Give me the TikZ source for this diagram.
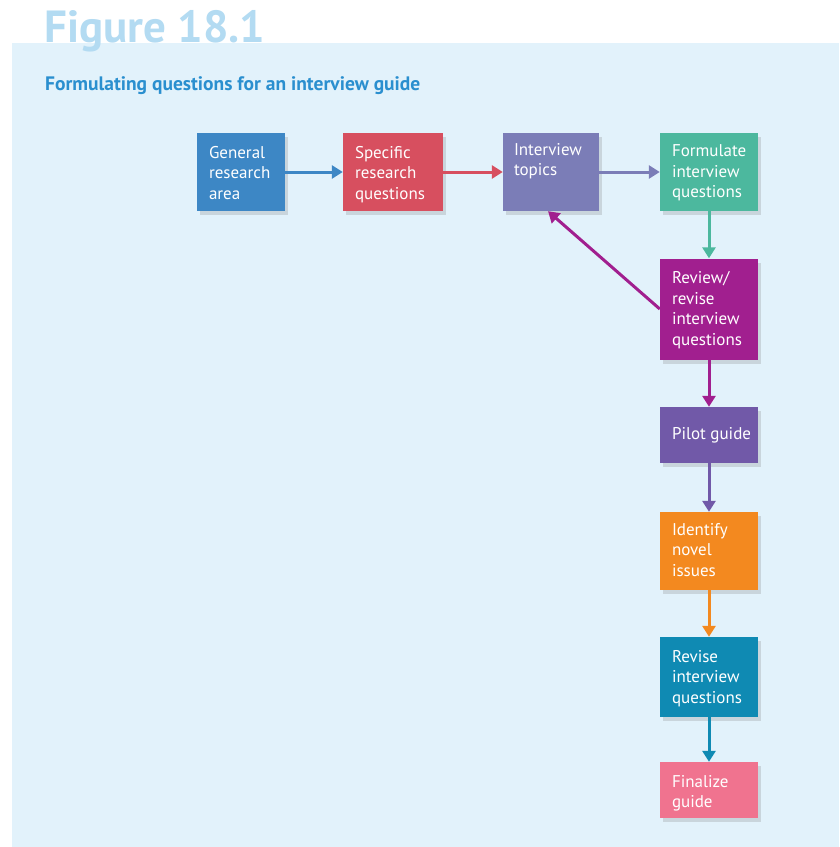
\documentclass[tikz,border=0pt]{standalone}
\usepackage{fontspec}
\setmainfont{PT Sans}
\usetikzlibrary{arrows.meta,shadows}
\definecolor{panel}{HTML}{E2F2FB}
\definecolor{titlec}{HTML}{B3DBF2}
\definecolor{subc}{HTML}{2A8FCF}
\definecolor{cA}{HTML}{3D87C5}
\definecolor{cB}{HTML}{D74F5F}
\definecolor{cC}{HTML}{7B7DB7}
\definecolor{cD}{HTML}{4CB89E}
\definecolor{cE}{HTML}{A11F8F}
\definecolor{cF}{HTML}{7159A8}
\definecolor{cG}{HTML}{F3891F}
\definecolor{cH}{HTML}{0F8AB3}
\definecolor{cI}{HTML}{F0738F}
\tikzset{
  box/.style={rectangle, inner sep=0pt, minimum width=98pt, minimum height=78pt,
    drop shadow={opacity=0.25, shadow xshift=3pt, shadow yshift=-4pt}},
  txt/.style={anchor=north west, align=left, inner sep=0pt, text=white,
    font=\fontsize{17}{20.5}\selectfont},
  arr/.style={line width=3pt, -{Triangle[width=13pt,length=11pt]}},
}
\begin{document}
\begin{tikzpicture}[x=1pt,y=-1pt]
\useasboundingbox (0,0) rectangle (839,847);
\fill[white] (0,0) rectangle (839,847);
\fill[panel] (12,43) rectangle (839,847);
\node[anchor=base west, inner sep=0pt, text=titlec, font=\bfseries\fontsize{45}{45}\selectfont] (title) at (44,42) {Figure 18.1};
\node[anchor=base west, inner sep=0pt, text=subc, font=\bfseries\fontsize{19.5}{21}\selectfont] (sub) at (45,90) {Formulating questions for an interview guide};

\node[box, fill=cA, minimum width=88pt] (a) at (241,172) {};
\node[box, fill=cB, minimum width=100pt] (b) at (393,172) {};
\node[box, fill=cC, minimum width=96pt] (c) at (551,172) {};
\node[box, fill=cD] (d) at (709,172) {};
\node[box, fill=cE, minimum height=101pt] (e) at (709,309) {};
\node[box, fill=cF, minimum height=56pt] (f) at (709,435) {};
\node[box, fill=cG] (g) at (709,551) {};
\node[box, fill=cH, minimum height=80pt] (h) at (709,677) {};
\node[box, fill=cI, minimum height=56pt] (i) at (709,790) {};

\node[txt] (ta) at ([xshift=12pt,yshift=-13pt]a.north west) {General\\research\\area};
\node[txt] (tb) at ([xshift=12pt,yshift=-13pt]b.north west) {Specific\\research\\questions};
\node[txt] (tc) at ([xshift=11pt,yshift=-10pt]c.north west) {Interview\\topics};
\node[txt] (td) at ([xshift=12pt,yshift=-12pt]d.north west) {Formulate\\interview\\questions};
\node[txt] (te) at ([xshift=12pt,yshift=-13pt]e.north west) {Review/\\revise\\interview\\questions};
\node[txt, anchor=west] (tf) at ([xshift=12pt]f.west) {Pilot guide};
\node[txt] (tg) at ([xshift=12pt,yshift=-11pt]g.north west) {Identify\\novel\\issues};
\node[txt] (th) at ([xshift=12pt,yshift=-13pt]h.north west) {Revise\\interview\\questions};
\node[txt] (ti) at ([xshift=12pt,yshift=-13pt]i.north west) {Finalize\\guide};

\draw[arr, cA] (a.east) -- (b.west);
\draw[arr, cB] (b.east) -- (c.west);
\draw[arr, cC] (c.east) -- (d.west);
\draw[arr, cD] (d.south) -- (e.north);
\draw[arr, cE] (e.west) -- ([xshift=-3pt]c.south);
\draw[arr, cE] (e.south) -- (f.north);
\draw[arr, cF] (f.south) -- (g.north);
\draw[arr, cG] (g.south) -- (h.north);
\draw[arr, cH] (h.south) -- (i.north);
\end{tikzpicture}
\end{document}
